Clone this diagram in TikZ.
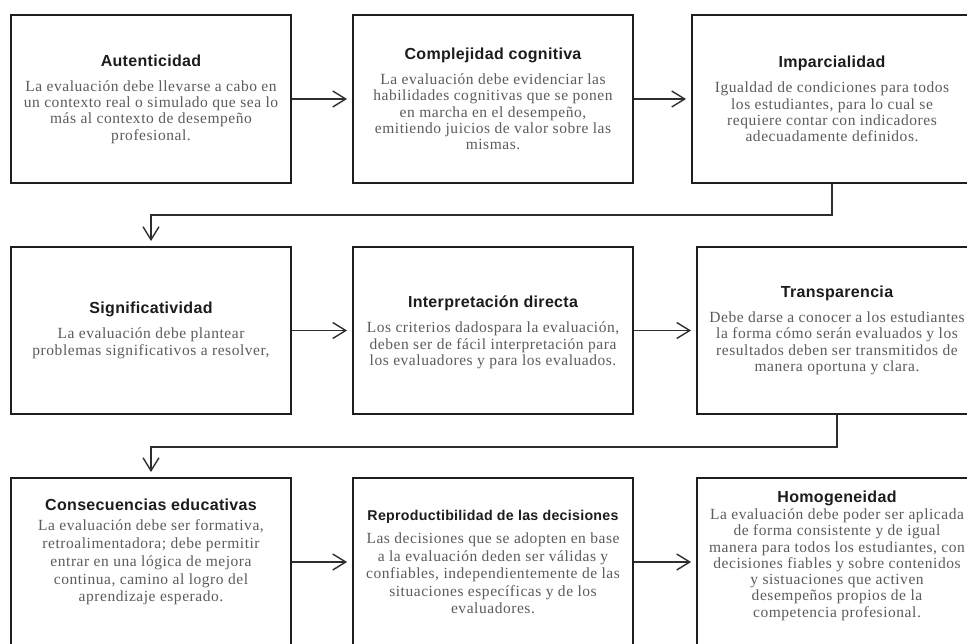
\documentclass[tikz,border=0pt]{standalone}
\usepackage{fontspec}
\setmainfont{Liberation Serif}
\newfontfamily\headfont{Liberation Sans}[LetterSpace=2]
\newfontfamily\copyfont{Liberation Serif}[LetterSpace=3.5]
\usetikzlibrary{arrows.meta}

\definecolor{frame}{HTML}{1E1E1E}
\definecolor{linkgray}{HTML}{2E2E2E}
\definecolor{headink}{HTML}{1C1C1C}
\definecolor{bodyink}{HTML}{5C5C5C}

% heading line of a card: [size]{title}{extra gap before the description}
\newcommand{\cardhead}[3][16]{{\headfont\bfseries\fontsize{#1}{16}\selectfont\color{headink}#2}\\[#3]}

\tikzset{
  card/.style={draw=frame, line width=1.9pt, fill=white,
    minimum width=280pt, minimum height=168pt, inner sep=0pt},
  cardtext/.style={align=center, inner sep=0pt, text=bodyink,
    font=\copyfont\fontsize{15.5}{16.3}\selectfont},
  link/.style={draw=linkgray, line width=1.4pt,
    -{Straight Barb[length=13pt,width=16pt,line width=1.4pt]},
    shorten >=5pt}
}

\begin{document}
\begin{tikzpicture}[x=1pt, y=-1pt]
\useasboundingbox (0,0) rectangle (967,643);

% boxes
\node[card] (aut) at (151,99) {};
\node[card] (cog) at (493,99) {};
\node[card] (imp) at (832,99) {};
\node[card, minimum height=167pt] (sig) at (151,330.5) {};
\node[card, minimum height=167pt] (int) at (493,330.5) {};
\node[card, minimum height=167pt] (tra) at (837,330.5) {};
\node[card] (con) at (151,562) {};
\node[card] (rep) at (493,562) {};
\node[card] (hom) at (837,562) {};

% first row texts
\node[cardtext] (autT) at (aut.center) {\cardhead{Autenticidad}{8.7pt}
La evaluación debe llevarse a cabo en\\
un contexto real o simulado que sea lo\\
más al contexto de desempeño\\
profesional.};
\node[cardtext] (cogT) at (cog.center) {\cardhead{Complejidad cognitiva}{8.7pt}
La evaluación debe evidenciar las\\
habilidades cognitivas que se ponen\\
en marcha en el desempeño,\\
emitiendo juicios de valor sobre las\\
mismas.};
\node[cardtext] (impT) at (imp.center) {\cardhead{Imparcialidad}{8.7pt}
Igualdad de condiciones para todos\\
los estudiantes, para lo cual se\\
requiere contar con indicadores\\
adecuadamente definidos.};

% second row texts
\node[cardtext] (sigT) at (sig.center) {\cardhead{Significatividad}{8.7pt}
La evaluación debe plantear\\
problemas significativos a resolver,};
\node[cardtext, yshift=-2pt] (intT) at (int.center) {\cardhead{Interpretación directa}{8.7pt}
Los criterios dadospara la evaluación,\\
deben ser de fácil interpretación para\\
los evaluadores y para los evaluados.};
\node[cardtext] (traT) at (tra.center) {\cardhead{Transparencia}{8.7pt}
Debe darse a conocer a los estudiantes\\
la forma cómo serán evaluados y los\\
resultados deben ser transmitidos de\\
manera oportuna y clara.};

% third row texts
\node[cardtext, yshift=10pt, font=\copyfont\fontsize{15.5}{17.9}\selectfont] (conT) at (con.center) {\cardhead{Consecuencias educativas}{2.1pt}
La evaluación debe ser formativa,\\
retroalimentadora; debe permitir\\
entrar en una lógica de mejora\\
continua, camino al logro del\\
aprendizaje esperado.};
\node[cardtext, font=\copyfont\fontsize{15.5}{17.5}\selectfont] (repT) at (rep.center) {\cardhead[14.2]{Reproductibilidad de las decisiones}{6pt}
Las decisiones que se adopten en base\\
a la evaluación deden ser válidas y\\
confiables, independientemente de las\\
situaciones específicas y de los\\
evaluadores.};
\node[cardtext, yshift=6.5pt] (homT) at (hom.center) {\cardhead{Homogeneidad}{1pt}
La evaluación debe poder ser aplicada\\
de forma consistente y de igual\\
manera para todos los estudiantes, con\\
decisiones fiables y sobre contenidos\\
y sistuaciones que activen\\
desempeños propios de la\\
competencia profesional.};

% bends of the row-to-row connectors
\coordinate (turnA) at (832,215);
\coordinate (turnB) at (837,447);

% connectors
\draw[link] (aut.east) -- (cog.west);
\draw[link] (cog.east) -- (imp.west);
\draw[link] (imp.south) -- (turnA) -| (sig.north);
\draw[link] (sig.east) -- (int.west);
\draw[link] (int.east) -- (tra.west);
\draw[link] (tra.south) -- (turnB) -| (con.north);
\draw[link] (con.east) -- (rep.west);
\draw[link] (rep.east) -- (hom.west);
\end{tikzpicture}
\end{document}
